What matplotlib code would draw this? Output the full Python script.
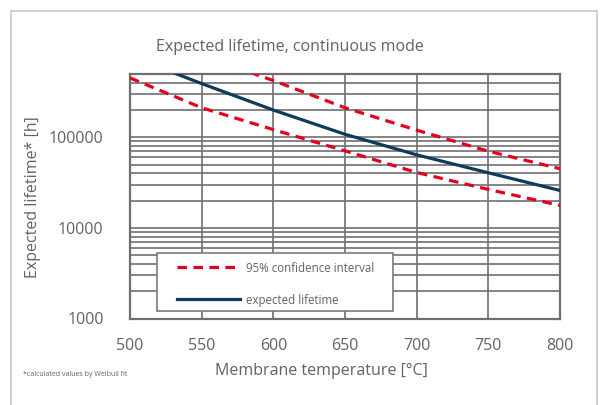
import matplotlib
matplotlib.use("Agg")
import matplotlib.pyplot as plt
from matplotlib.patches import Rectangle
from matplotlib.lines import Line2D

plt.rcParams['font.family'] = ['Open Sans', 'DejaVu Sans']

# values
temps = [500, 550, 600, 650, 700, 750, 800]
expected = [790000, 392000, 200000, 108000, 64100, 40600, 25900]
upper_ci = [1600000, 806000, 423000, 212000, 120000, 70200, 45000]
lower_ci = [453000, 212000, 121600, 70900, 40900, 26600, 17700]
x_ticks = [500, 550, 600, 650, 700, 750, 800]
y_ticks = [1000, 10000, 100000]

text_col = '#626262'
grid_col = '#6f6f6f'
red = '#e3001b'
navy = '#0d3b58'

W, H = 605, 405
fig = plt.figure(figsize=(W / 100, H / 100), dpi=100)
ax = fig.add_axes([130 / W, 1 - 318.5 / H, 430 / W, (318.5 - 74) / H])

ax.set_yscale('log')
ax.set_xlim(500, 800)
ax.set_ylim(1000, 500000)

ax.plot(temps, upper_ci, color=red, lw=2.3, dashes=(3, 2), zorder=3)
ax.plot(temps, lower_ci, color=red, lw=2.3, dashes=(3, 2), zorder=3)
ax.plot(temps, expected, color=navy, lw=2.3, zorder=3)

ax.set_xticks(x_ticks)
ax.set_xticklabels([str(t) for t in x_ticks])
ax.set_yticks(y_ticks)
ax.set_yticklabels([str(t) for t in y_ticks])
ax.minorticks_on()
ax.xaxis.set_minor_locator(matplotlib.ticker.NullLocator())
ax.yaxis.set_minor_formatter(matplotlib.ticker.NullFormatter())
ax.tick_params(which='both', length=0, labelsize=11.5, labelcolor=text_col)
ax.tick_params(axis='y', pad=19)
ax.tick_params(axis='x', pad=14)
ax.grid(True, which='major', color=grid_col, lw=1.2)
ax.grid(True, which='minor', axis='y', color=grid_col, lw=1.2)
ax.set_axisbelow(True)
for s in ax.spines.values():
    s.set_color(grid_col)
    s.set_linewidth(1.6)

# text
fig.text(290 / W, 1 - 47 / H, 'Expected lifetime, continuous mode',
         ha='center', va='center', fontsize=11.5, color=text_col)
fig.text(321 / W, 1 - 371 / H, 'Membrane temperature [°C]',
         ha='center', va='center', fontsize=11.5, color=text_col)
fig.text(33 / W, 1 - 197 / H, 'Expected lifetime* [h]', rotation=90,
         ha='center', va='center', fontsize=11.5, color=text_col)
fig.text(23 / W, 1 - 375 / H, '*calculated values by Weibull fit',
         ha='left', va='center', fontsize=5, color=text_col)

# legend box
box = Rectangle((157 / W, 1 - 311 / H), 236 / W, 58 / H, transform=fig.transFigure,
                facecolor='white', edgecolor='#7a7a7a', lw=1.2, zorder=4, clip_on=False)
ax.add_patch(box)
handles = [Line2D([], [], color=red, lw=2.3, dashes=(3, 2)),
           Line2D([], [], color=navy, lw=2.3)]
leg = ax.legend(handles, ['95% confidence interval', 'expected lifetime'],
                loc='upper left', bbox_to_anchor=(177 / W, 1 - 261.5 / H),
                bbox_transform=fig.transFigure, frameon=False, fontsize=8.3,
                handlelength=5.5, handletextpad=0.5, labelspacing=1.65,
                borderpad=0, borderaxespad=0, labelcolor=text_col)
leg.set_zorder(5)

# outer frame
frame_col = '#c8c8c8'
fig.add_artist(Line2D([11 / W, 11 / W], [0, 1 - 11 / H], color=frame_col, lw=1.2))
fig.add_artist(Line2D([11 / W, 597 / W], [1 - 11 / H, 1 - 11 / H], color=frame_col, lw=1.2))
fig.add_artist(Line2D([597 / W, 597 / W], [0, 1 - 11 / H], color=frame_col, lw=1.2))

fig.savefig('out.png', dpi=100)
